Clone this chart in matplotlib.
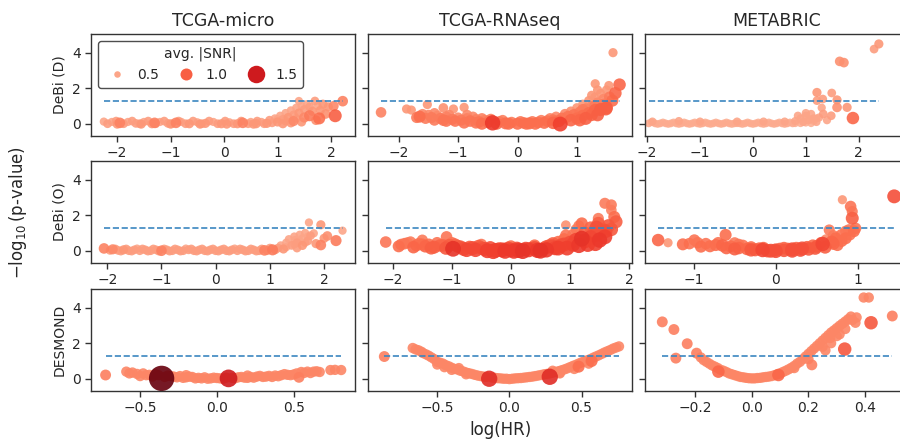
import numpy as np
import matplotlib
matplotlib.use("Agg")
import matplotlib.pyplot as plt
from matplotlib.lines import Line2D

datasets = ["TCGA-micro", "TCGA-RNAseq", "METABRIC"]
methods = ["DeBi (D)", "DeBi (O)", "DESMOND"]

# points per panel: (log HR, -log10 p, avg |SNR|)
micro_d = [
    (-2.25, 0.12, 0.5), (-2.1, 0.1, 0.5), (-1.95, 0.05, 0.75), (-1.8, 0.1, 0.5), (-1.65, 0.02, 0.55),
    (-1.5, 0.1, 0.5), (-1.35, 0.0, 0.6), (-1.3, 0.05, 0.75), (-1.2, 0.1, 0.5), (-1.05, 0.02, 0.55),
    (-0.9, 0.05, 0.75), (-0.8, 0.1, 0.5), (-0.65, 0.0, 0.6), (-0.5, 0.08, 0.5), (-0.35, 0.02, 0.6),
    (-0.2, 0.1, 0.5), (-0.05, 0.0, 0.6), (0.1, 0.08, 0.5), (0.25, 0.0, 0.6), (0.35, 0.05, 0.75),
    (0.5, 0.1, 0.5), (0.6, 0.0, 0.6), (0.7, 0.1, 0.5), (0.8, 0.02, 0.6), (-2.0, -0.02, 0.6),
    (-1.55, -0.02, 0.6), (-1.0, -0.02, 0.6), (-0.45, -0.02, 0.6), (0.05, -0.02, 0.6), (0.55, -0.02, 0.6),
    (0.85, 0.2, 0.55), (0.95, 0.3, 0.5), (1.0, 0.1, 0.6), (1.05, 0.45, 0.5), (1.1, 0.25, 0.55),
    (1.15, 0.6, 0.5), (1.2, 0.35, 0.6), (1.25, 0.75, 0.5), (1.3, 0.5, 0.55), (1.3, 0.15, 0.7),
    (1.35, 0.9, 0.5), (1.4, 1.28, 0.5), (1.4, 0.6, 0.6), (1.45, 1.0, 0.5), (1.5, 0.35, 0.7),
    (1.5, 0.8, 0.55), (1.55, 1.1, 0.5), (1.6, 0.45, 0.8), (1.6, 0.95, 0.55), (1.65, 0.7, 0.6),
    (1.7, 1.28, 0.55), (1.72, 0.2, 0.65), (1.75, 1.0, 0.5), (1.78, 0.3, 0.9), (1.8, 0.75, 0.6),
    (1.85, 1.1, 0.6), (1.9, 0.55, 0.65), (1.95, 0.95, 0.6), (2.05, 1.0, 0.7), (2.08, 0.45, 1.0),
    (2.22, 1.27, 0.75), (1.25, 0.05, 0.6), (1.45, 0.1, 0.6), (1.1, 0.0, 0.6),
    (-2.18, 0.0, 0.55), (-2.02, 0.15, 0.55), (-1.88, 0.0, 0.55), (-1.72, 0.15, 0.55), (-1.58, 0.0, 0.55),
    (-1.42, 0.15, 0.55), (-1.28, 0.0, 0.55), (-1.12, 0.15, 0.55), (-0.98, 0.0, 0.55), (-0.85, 0.15, 0.55),
    (-0.72, 0.0, 0.55), (-0.58, 0.15, 0.55), (-0.42, 0.0, 0.55), (-0.28, 0.15, 0.55), (-0.12, 0.0, 0.55),
    (0.02, 0.15, 0.55), (0.18, 0.0, 0.55), (0.32, 0.15, 0.55), (0.45, 0.0, 0.55), (0.62, 0.15, 0.55),
    (0.75, 0.0, 0.55), (0.9, 0.05, 0.55), (1.0, 0.25, 0.5), (1.15, 0.15, 0.55), (1.35, 0.3, 0.55),
]
rnaseq_d = [
    (-2.3, 0.64, 0.75), (-1.87, 0.83, 0.6), (-1.79, 0.77, 0.6), (-1.52, 1.08, 0.6), (-1.25, 0.89, 0.65),
    (-1.08, 0.83, 0.6), (-0.9, 0.92, 0.6), (-1.65, 0.4, 0.9), (-1.6, 0.55, 0.7), (-1.5, 0.5, 0.7),
    (-1.45, 0.35, 0.8), (-1.35, 0.45, 0.7), (-1.3, 0.3, 0.8), (-1.2, 0.4, 0.75), (-1.1, 0.25, 0.8),
    (-1.0, 0.35, 0.7), (-0.95, 0.2, 0.8), (-0.85, 0.3, 0.75), (-0.8, 0.15, 0.85), (-0.7, 0.25, 0.75),
    (-0.65, 0.1, 0.85), (-0.55, 0.2, 0.75), (-0.5, 0.08, 0.85), (-0.42, 0.05, 1.25), (-0.3, 0.12, 0.8),
    (-0.2, 0.02, 0.9), (-0.1, 0.08, 0.8), (0.0, 0.0, 0.9), (0.1, 0.05, 0.85), (0.2, 0.02, 0.9),
    (0.25, 0.12, 0.8), (0.35, 0.08, 0.85), (0.4, 0.2, 0.75), (0.5, 0.15, 0.85), (0.55, 0.3, 0.75),
    (0.6, 0.2, 0.85), (0.65, 0.4, 0.7), (0.72, -0.02, 1.2), (0.75, 0.3, 0.85), (0.8, 0.55, 0.7),
    (0.85, 0.4, 0.85), (0.9, 0.7, 0.65), (0.95, 0.5, 0.85), (1.0, 0.9, 0.6), (1.0, 0.3, 0.9),
    (1.05, 0.65, 0.8), (1.1, 1.1, 0.6), (1.1, 0.45, 0.9), (1.15, 0.85, 0.75), (1.2, 1.3, 0.6),
    (1.2, 0.6, 0.9), (1.25, 1.0, 0.7), (1.3, 1.5, 0.55), (1.31, 2.25, 0.6), (1.31, 0.77, 0.95),
    (1.35, 1.2, 0.7), (1.4, 1.7, 0.6), (1.4, 0.8, 1.0), (1.45, 1.4, 0.7), (1.49, 0.83, 1.0),
    (1.5, 1.9, 0.6), (1.54, 2.15, 0.6), (1.55, 1.5, 0.8), (1.61, 4.0, 0.6), (1.65, 1.72, 0.95),
    (1.72, 2.2, 0.95), (-1.4, 0.2, 0.8), (-0.9, 0.05, 0.85), (-0.6, 0.0, 0.9),
    (-1.55, 0.3, 0.8), (-1.25, 0.2, 0.85), (-1.15, 0.5, 0.7), (-1.05, 0.15, 0.85), (-0.75, 0.4, 0.7),
    (-0.6, 0.3, 0.75), (-0.45, 0.25, 0.8), (-0.35, 0.0, 0.9), (-0.25, 0.2, 0.75), (-0.15, 0.0, 0.9),
    (0.05, 0.12, 0.8), (0.15, 0.0, 0.9), (0.3, 0.0, 0.9), (0.45, 0.05, 0.9), (0.6, 0.05, 0.95),
    (0.7, 0.15, 0.9), (0.9, 0.2, 0.95), (1.05, 0.2, 0.95), (1.15, 0.3, 1.0), (1.25, 0.5, 0.95),
    (1.3, 1.0, 0.8), (1.35, 0.5, 1.0), (1.45, 1.1, 0.8), (1.5, 0.9, 1.0), (1.6, 1.3, 0.9),
    (1.35, 1.9, 0.6), (1.25, 1.6, 0.6), (1.1, 0.8, 0.8),
    (-1.7, 0.35, 0.8), (-1.4, 0.6, 0.7), (-1.2, 0.15, 0.85), (-0.85, 0.5, 0.7), (-0.7, 0.05, 0.85),
]
metabric_d = [
    (-1.97, 0.02, 0.45), (-1.85, 0.02, 0.45), (-1.75, 0.02, 0.45), (-1.65, 0.02, 0.45), (-1.55, 0.02, 0.45),
    (-1.45, 0.02, 0.45), (-1.35, 0.02, 0.45), (-1.25, 0.02, 0.45), (-1.15, 0.02, 0.45), (-1.05, 0.02, 0.45),
    (-0.95, 0.02, 0.45), (-0.85, 0.02, 0.45), (-0.75, 0.02, 0.45), (-0.65, 0.02, 0.45), (-0.55, 0.02, 0.45),
    (-0.45, 0.02, 0.45), (-0.35, 0.02, 0.45), (-0.25, 0.02, 0.45), (-0.15, 0.02, 0.45), (-0.05, 0.02, 0.45),
    (0.05, 0.02, 0.45), (0.15, 0.02, 0.45), (0.25, 0.02, 0.45), (0.35, 0.02, 0.45), (0.45, 0.02, 0.45),
    (0.55, 0.02, 0.45), (0.65, 0.02, 0.45), (0.75, 0.02, 0.45), (-1.9, 0.12, 0.5), (-1.4, 0.15, 0.5),
    (-1.0, 0.12, 0.5), (-0.3, 0.12, 0.5), (0.2, 0.12, 0.5), (0.6, 0.12, 0.5),
    (0.8, 0.15, 0.5), (0.9, 0.3, 0.5), (0.95, 0.1, 0.5), (1.0, 0.45, 0.5), (1.05, 0.2, 0.5),
    (1.1, 0.55, 0.5), (1.15, 0.3, 0.5), (1.2, 0.1, 0.5), (0.85, 0.45, 0.5), (1.0, 0.6, 0.5),
    (1.21, 1.3, 0.55), (1.21, 1.76, 0.6), (1.32, 1.39, 0.55), (1.33, 0.55, 0.55), (1.48, 0.45, 0.55),
    (1.49, 1.73, 0.55), (1.59, 1.34, 0.6), (1.59, 0.92, 0.65), (1.78, 0.92, 0.6), (1.89, 0.32, 0.95),
    (1.64, 3.51, 0.65), (1.72, 3.44, 0.65), (2.29, 4.2, 0.55), (2.38, 4.49, 0.6), (1.25, 0.35, 0.5),
    (1.4, 0.2, 0.5), (1.3, 0.9, 0.5),
    (-1.92, 0.08, 0.42), (-1.8, -0.02, 0.42), (-1.7, 0.08, 0.42), (-1.6, -0.02, 0.42), (-1.5, 0.08, 0.42),
    (-1.4, -0.02, 0.42), (-1.3, 0.08, 0.42), (-1.2, -0.02, 0.42), (-1.1, 0.08, 0.42), (-1.0, -0.02, 0.42),
    (-0.9, 0.08, 0.42), (-0.8, -0.02, 0.42), (-0.7, 0.08, 0.42), (-0.6, -0.02, 0.42), (-0.5, 0.08, 0.42),
    (-0.4, -0.02, 0.42), (-0.3, 0.02, 0.42), (-0.2, -0.02, 0.42), (-0.1, 0.08, 0.42), (0.0, -0.02, 0.42),
    (0.1, 0.08, 0.42), (0.2, -0.02, 0.42), (0.3, 0.08, 0.42), (0.4, -0.02, 0.42), (0.5, 0.08, 0.42),
    (0.6, -0.02, 0.42), (0.7, 0.08, 0.42), (0.8, 0.02, 0.42), (0.9, 0.02, 0.42), (1.0, 0.05, 0.42),
    (1.1, 0.02, 0.42), (1.15, 0.15, 0.45), (1.2, 0.3, 0.45), (1.1, 0.25, 0.45),
]
micro_o = [
    (-2.06, 0.13, 0.75), (-1.9, 0.08, 0.7), (-1.8, 0.02, 0.55), (-1.7, 0.05, 0.6), (-1.6, 0.0, 0.55),
    (-1.5, 0.05, 0.55), (-1.4, 0.0, 0.55), (-1.3, 0.05, 0.55), (-1.2, 0.0, 0.55), (-1.1, 0.05, 0.55),
    (-1.0, 0.0, 0.75), (-0.9, 0.05, 0.55), (-0.8, 0.0, 0.55), (-0.7, 0.05, 0.55), (-0.6, 0.0, 0.55),
    (-0.5, 0.05, 0.55), (-0.4, 0.0, 0.55), (-0.3, 0.05, 0.55), (-0.2, 0.0, 0.55), (-0.1, 0.05, 0.55),
    (0.0, 0.0, 0.55), (0.1, 0.05, 0.55), (0.2, 0.0, 0.55), (0.3, 0.05, 0.55), (0.4, 0.0, 0.55),
    (0.5, 0.05, 0.55), (0.6, 0.0, 0.55), (0.7, 0.05, 0.55), (0.8, 0.0, 0.55), (0.9, 0.02, 0.75),
    (1.05, 0.05, 0.8), (-1.45, 0.12, 0.5), (-0.55, 0.12, 0.5), (0.35, 0.12, 0.5),
    (1.15, 0.15, 0.55), (1.2, 0.3, 0.5), (1.25, 0.1, 0.6), (1.3, 0.45, 0.5), (1.35, 0.65, 0.5),
    (1.4, 0.3, 0.55), (1.45, 0.8, 0.5), (1.46, 0.6, 0.5), (1.5, 0.45, 0.55), (1.55, 0.9, 0.5),
    (1.6, 0.7, 0.5), (1.6, 0.3, 0.6), (1.65, 1.0, 0.5), (1.7, 0.55, 0.55), (1.72, 1.59, 0.5),
    (1.75, 0.85, 0.55), (1.81, 0.98, 0.5), (1.85, 0.4, 0.6), (1.94, 1.46, 0.6), (1.94, 0.32, 0.75),
    (2.0, 0.7, 0.6), (2.06, 0.83, 0.65), (2.22, 0.57, 0.8), (2.34, 1.13, 0.5),
    (-1.95, 0.02, 0.55), (-1.85, 0.1, 0.55), (-1.75, -0.02, 0.55), (-1.65, 0.1, 0.55), (-1.55, -0.02, 0.55),
    (-1.35, 0.1, 0.55), (-1.25, -0.02, 0.55), (-1.15, 0.1, 0.55), (-1.05, -0.02, 0.55), (-0.95, 0.1, 0.55),
    (-0.85, -0.02, 0.55), (-0.75, 0.1, 0.55), (-0.65, -0.02, 0.55), (-0.45, 0.1, 0.55), (-0.35, -0.02, 0.55),
    (-0.25, 0.1, 0.55), (-0.15, -0.02, 0.55), (-0.05, 0.1, 0.55), (0.05, -0.02, 0.55), (0.15, 0.1, 0.55),
    (0.25, -0.02, 0.55), (0.45, 0.1, 0.55), (0.55, -0.02, 0.55), (0.65, 0.1, 0.55), (0.75, -0.02, 0.55),
    (0.85, 0.1, 0.55), (0.95, 0.0, 0.55), (1.0, 0.15, 0.55), (1.1, 0.05, 0.55),
    (1.3, 0.2, 0.5), (1.45, 0.35, 0.5), (1.55, 0.55, 0.5), (1.65, 0.45, 0.5), (1.7, 0.8, 0.5), (1.5, 0.15, 0.55),
]
rnaseq_o = [
    (-2.12, 0.49, 0.85), (-1.86, 0.35, 0.85), (-1.75, 0.45, 0.8), (-1.7, 0.5, 0.8), (-1.6, 0.3, 0.9),
    (-1.56, 0.4, 0.85), (-1.45, 0.25, 0.95), (-1.39, 0.35, 0.9), (-1.3, 0.2, 1.0), (-1.2, 0.3, 0.95),
    (-1.09, 0.78, 0.85), (-1.1, 0.15, 1.05), (-0.98, 0.11, 1.3), (-0.9, 0.25, 1.0), (-0.8, 0.1, 1.1),
    (-0.7, 0.2, 1.0), (-0.6, 0.05, 1.15), (-0.5, 0.15, 1.05), (-0.4, 0.0, 1.2), (-0.26, 0.02, 1.2),
    (-0.2, 0.1, 1.05), (-0.1, -0.02, 1.25), (0.0, 0.05, 1.15), (0.13, 0.02, 1.25), (0.2, -0.02, 1.3),
    (0.3, 0.05, 1.2), (0.35, 0.12, 1.05), (0.45, 0.02, 1.25), (0.54, 0.11, 1.0), (0.6, 0.2, 1.1),
    (0.65, 0.3, 0.95), (0.71, 0.4, 1.0), (0.75, 0.15, 1.15), (0.8, 0.5, 0.9), (0.85, 0.3, 1.1),
    (0.9, 0.65, 0.9), (0.93, 0.87, 0.85), (0.93, 1.44, 0.65), (1.0, 0.45, 1.1), (1.05, 0.9, 0.85),
    (1.1, 1.2, 0.75), (1.1, 0.6, 1.15), (1.15, 1.4, 0.8), (1.2, 1.54, 0.9), (1.2, 0.68, 1.3),
    (1.25, 1.0, 1.0), (1.3, 0.35, 1.2), (1.35, 1.3, 0.95), (1.43, 0.4, 1.2), (1.45, 0.9, 1.1),
    (1.48, 1.82, 0.8), (1.48, 1.54, 1.0), (1.55, 1.2, 1.05), (1.59, 2.67, 0.8), (1.59, 0.78, 1.2),
    (1.65, 1.4, 1.05), (1.7, 2.58, 0.8), (1.7, 2.29, 0.75), (1.78, 1.63, 1.0), (-1.5, 0.6, 0.8),
    (-1.0, 0.45, 0.85), (-0.5, 0.35, 0.85), (0.0, 0.25, 0.9), (0.4, 0.3, 0.9),
    (-1.9, 0.25, 0.9), (-1.8, 0.4, 0.85), (-1.65, 0.2, 0.95), (-1.5, 0.35, 0.9), (-1.35, 0.15, 1.0),
    (-1.25, 0.45, 0.85), (-1.15, 0.3, 0.95), (-1.05, 0.3, 1.0), (-0.95, 0.35, 0.95), (-0.85, 0.2, 1.05),
    (-0.75, 0.05, 1.15), (-0.65, 0.15, 1.1), (-0.55, 0.25, 1.0), (-0.45, 0.1, 1.1), (-0.35, 0.15, 1.1),
    (-0.3, -0.05, 1.2), (-0.15, 0.05, 1.2), (-0.05, 0.12, 1.1), (0.05, -0.02, 1.25), (0.1, 0.12, 1.1),
    (0.25, 0.1, 1.15), (0.4, 0.15, 1.1), (0.5, 0.0, 1.3), (0.6, 0.05, 1.25), (0.7, 0.25, 1.1),
    (0.8, 0.15, 1.2), (0.9, 0.35, 1.1), (0.95, 0.15, 1.2), (1.05, 0.35, 1.15), (1.15, 0.3, 1.25),
    (1.25, 0.55, 1.2), (1.35, 0.75, 1.15), (1.4, 1.0, 1.05), (1.5, 0.6, 1.25), (1.6, 1.1, 1.1),
    (1.7, 1.2, 1.05), (1.75, 1.9, 0.9), (1.45, 1.3, 1.1),
]
metabric_o = [
    (-1.43, 0.6, 0.95), (-1.31, 0.45, 0.6), (-1.13, 0.36, 0.9), (-0.99, 0.6, 0.85), (-0.91, 0.23, 0.9),
    (-0.61, 0.89, 0.9), (-0.73, 0.32, 0.9), (-1.05, 0.4, 0.85), (-0.85, 0.4, 0.85), (-0.65, 0.3, 0.95),
    (-0.55, 0.25, 0.9), (-0.5, 0.45, 0.8), (-0.45, 0.15, 0.95), (-0.4, 0.3, 0.85), (-0.35, 0.1, 0.95),
    (-0.3, 0.2, 0.9), (-0.25, 0.05, 1.0), (-0.2, 0.12, 0.95), (-0.16, 0.04, 1.15), (-0.1, 0.0, 1.05),
    (-0.06, 0.0, 1.1), (0.0, 0.05, 1.0), (0.05, 0.1, 0.95), (0.1, 0.02, 1.05), (0.15, 0.1, 0.95),
    (0.2, 0.08, 1.1), (0.25, 0.15, 0.95), (0.32, 0.13, 1.1), (0.38, 0.2, 0.95), (0.45, 0.3, 0.9),
    (0.5, 0.25, 1.0), (0.55, 0.45, 0.85), (0.57, 0.38, 1.15), (0.61, 0.64, 0.7), (0.65, 1.17, 0.8),
    (0.68, 0.5, 0.95), (0.73, 0.7, 0.9), (0.75, 0.32, 0.9), (0.8, 0.9, 0.85), (0.85, 1.1, 0.8),
    (0.89, 1.17, 0.85), (0.81, 2.87, 0.6), (0.91, 2.49, 0.85), (0.93, 2.21, 0.8), (0.93, 1.83, 1.0),
    (0.97, 1.26, 0.85), (1.44, 3.06, 1.1),
    (-0.95, 0.45, 0.85), (-0.8, 0.25, 0.9), (-0.7, 0.45, 0.85), (-0.6, 0.15, 0.95), (-0.5, 0.1, 1.0),
    (-0.45, 0.35, 0.85), (-0.3, 0.05, 1.05), (-0.15, 0.15, 0.95), (0.0, -0.02, 1.1), (0.1, 0.15, 0.95),
    (0.2, 0.0, 1.1), (0.3, 0.05, 1.1), (0.4, 0.1, 1.05), (0.48, 0.15, 1.05), (0.6, 0.2, 1.0),
    (0.7, 0.4, 0.95), (0.8, 0.55, 0.9), (0.85, 0.7, 0.9), (0.9, 0.9, 0.85), (0.95, 1.1, 0.9),
    (0.7, 0.85, 0.8),
]
micro_des = [
    (-0.725, 0.21, 0.78), (-0.59, 0.4, 0.72), (-0.55, 0.35, 0.72), (-0.52, 0.27, 0.72), (-0.48, 0.3, 0.72),
    (-0.44, 0.22, 0.72), (-0.4, 0.25, 0.72), (-0.36, 0.02, 2.3), (-0.32, 0.18, 0.72), (-0.28, 0.12, 0.72),
    (-0.24, 0.15, 0.72), (-0.2, 0.08, 0.72), (-0.16, 0.1, 0.72), (-0.12, 0.05, 0.72), (-0.08, 0.08, 0.72),
    (-0.04, 0.02, 0.72), (0.0, 0.04, 0.72), (0.04, 0.0, 0.72), (0.076, 0.02, 1.5), (0.1, 0.05, 0.72),
    (0.14, 0.08, 0.72), (0.18, 0.06, 0.72), (0.22, 0.1, 0.72), (0.26, 0.12, 0.72), (0.3, 0.1, 0.72),
    (0.34, 0.16, 0.72), (0.38, 0.18, 0.72), (0.42, 0.2, 0.72), (0.46, 0.22, 0.72), (0.5, 0.24, 0.72),
    (0.535, 0.08, 0.78), (0.55, 0.38, 0.72), (0.59, 0.4, 0.72), (0.63, 0.4, 0.72), (0.67, 0.38, 0.72),
    (0.74, 0.49, 0.72), (0.81, 0.49, 0.72), (-0.2, 0.2, 0.72), (0.2, 0.18, 0.72),
    (-0.5, 0.15, 0.72), (-0.46, 0.2, 0.72), (-0.42, 0.12, 0.72), (-0.38, 0.2, 0.72), (-0.34, 0.1, 0.72),
    (-0.3, 0.15, 0.72), (-0.26, 0.08, 0.72), (-0.22, 0.05, 0.72), (-0.18, 0.12, 0.72), (-0.14, 0.02, 0.72),
    (-0.1, 0.02, 0.72), (-0.06, 0.0, 0.72), (-0.02, 0.06, 0.72), (0.02, 0.02, 0.72), (0.06, 0.06, 0.72),
    (0.12, 0.03, 0.72), (0.16, 0.1, 0.72), (0.2, 0.05, 0.72), (0.24, 0.06, 0.72), (0.28, 0.16, 0.72),
    (0.32, 0.12, 0.72), (0.36, 0.1, 0.72), (0.4, 0.14, 0.72), (0.44, 0.26, 0.72), (0.48, 0.2, 0.72),
    (0.52, 0.3, 0.72), (0.57, 0.33, 0.72), (0.61, 0.32, 0.72), (0.65, 0.42, 0.72), (0.77, 0.5, 0.72),
    (-0.57, 0.3, 0.72),
]
rnaseq_des = [
    (-0.867, 1.25, 0.78), (-0.67, 1.73, 0.72), (-0.63, 1.6, 0.72), (-0.6, 1.45, 0.72), (-0.56, 1.3, 0.72),
    (-0.52, 1.1, 0.72), (-0.5, 0.95, 0.72), (-0.46, 0.85, 0.72), (-0.42, 0.7, 0.72), (-0.38, 0.55, 0.72),
    (-0.34, 0.45, 0.72), (-0.3, 0.35, 0.72), (-0.26, 0.27, 0.72), (-0.22, 0.18, 0.72), (-0.18, 0.12, 0.72),
    (-0.14, 0.0, 1.35), (-0.12, 0.07, 0.72), (-0.08, 0.03, 0.72), (-0.04, 0.0, 0.72), (0.0, -0.02, 0.72),
    (0.04, 0.02, 0.72), (0.08, 0.04, 0.72), (0.12, 0.08, 0.72), (0.16, 0.12, 0.72), (0.2, 0.18, 0.72),
    (0.24, 0.25, 0.72), (0.28, 0.11, 1.35), (0.28, 0.3, 0.72), (0.32, 0.38, 0.72), (0.36, 0.47, 0.72),
    (0.4, 0.58, 0.72), (0.44, 0.72, 0.72), (0.48, 0.85, 0.72), (0.48, 0.68, 0.9), (0.52, 0.98, 0.72),
    (0.56, 1.1, 0.72), (0.57, 1.0, 0.9), (0.6, 1.25, 0.72), (0.64, 1.4, 0.72), (0.68, 1.55, 0.72),
    (0.72, 1.7, 0.72), (0.76, 1.82, 0.72), (-0.35, 0.6, 0.72), (-0.4, 0.5, 0.72), (0.3, 0.45, 0.72),
    (0.35, 0.35, 0.72),
    (-0.65, 1.65, 0.72), (-0.61, 1.52, 0.72), (-0.58, 1.38, 0.72), (-0.54, 1.2, 0.72), (-0.48, 0.9, 0.72),
    (-0.44, 0.76, 0.72), (-0.4, 0.62, 0.72), (-0.36, 0.52, 0.72), (-0.32, 0.41, 0.72), (-0.28, 0.31, 0.72),
    (-0.24, 0.22, 0.72), (-0.2, 0.15, 0.72), (-0.16, 0.1, 0.72), (-0.1, 0.05, 0.72), (-0.06, 0.02, 0.72),
    (-0.02, 0.0, 0.72), (0.02, 0.0, 0.72), (0.06, 0.03, 0.72), (0.1, 0.06, 0.72), (0.14, 0.1, 0.72),
    (0.18, 0.15, 0.72), (0.22, 0.21, 0.72), (0.26, 0.27, 0.72), (0.3, 0.34, 0.72), (0.34, 0.42, 0.72),
    (0.38, 0.52, 0.72), (0.42, 0.65, 0.72), (0.46, 0.78, 0.72), (0.5, 0.92, 0.72), (0.54, 1.04, 0.72),
    (0.58, 1.18, 0.72), (0.62, 1.32, 0.72), (0.66, 1.48, 0.72), (0.7, 1.62, 0.72), (0.74, 1.76, 0.72),
    (-0.45, 0.65, 0.72), (-0.3, 0.25, 0.72), (0.35, 0.3, 0.72), (0.45, 0.55, 0.72), (0.55, 0.85, 0.72),
    (-0.5, 0.8, 0.72),
]
metabric_des = [
    (-0.316, 3.2, 0.78), (-0.275, 2.77, 0.78), (-0.268, 1.16, 0.78), (-0.228, 1.97, 0.78), (-0.195, 1.44, 0.78),
    (-0.18, 1.2, 0.72), (-0.16, 0.95, 0.72), (-0.14, 0.75, 0.72), (-0.118, 0.4, 0.95), (-0.12, 0.6, 0.72),
    (-0.1, 0.45, 0.72), (-0.08, 0.3, 0.72), (-0.06, 0.2, 0.72), (-0.04, 0.1, 0.72), (-0.02, 0.05, 0.72),
    (0.0, 0.02, 0.72), (0.02, 0.04, 0.72), (0.04, 0.08, 0.72), (0.06, 0.12, 0.72), (0.08, 0.2, 0.72),
    (0.094, 0.21, 0.95), (0.1, 0.3, 0.72), (0.12, 0.45, 0.72), (0.14, 0.62, 0.72), (0.16, 0.85, 0.72),
    (0.18, 1.1, 0.72), (0.2, 1.4, 0.72), (0.212, 0.78, 0.78), (0.22, 1.7, 0.72), (0.24, 2.0, 0.72),
    (0.26, 2.3, 0.72), (0.277, 2.29, 0.72), (0.28, 2.6, 0.72), (0.3, 2.85, 0.72), (0.32, 3.1, 0.72),
    (0.34, 3.35, 0.72), (0.35, 3.5, 0.72), (0.328, 1.67, 1.05), (0.366, 3.15, 0.72), (0.395, 4.57, 0.72),
    (0.413, 4.57, 0.72), (0.421, 3.15, 1.05), (0.496, 3.53, 0.78), (0.25, 1.8, 0.72), (0.3, 2.4, 0.72),
    (0.2, 1.1, 0.72), (0.15, 0.6, 0.72),
    (-0.17, 1.05, 0.72), (-0.15, 0.85, 0.72), (-0.13, 0.68, 0.72), (-0.11, 0.5, 0.72), (-0.09, 0.38, 0.72),
    (-0.07, 0.25, 0.72), (-0.05, 0.15, 0.72), (-0.03, 0.08, 0.72), (-0.01, 0.03, 0.72), (0.01, 0.02, 0.72),
    (0.03, 0.05, 0.72), (0.05, 0.1, 0.72), (0.07, 0.15, 0.72), (0.09, 0.25, 0.72), (0.11, 0.38, 0.72),
    (0.13, 0.53, 0.72), (0.15, 0.72, 0.72), (0.17, 0.95, 0.72), (0.19, 1.25, 0.72), (0.21, 1.55, 0.72),
    (0.23, 1.85, 0.72), (0.25, 2.15, 0.72), (0.27, 2.45, 0.72), (0.29, 2.72, 0.72), (0.31, 2.98, 0.72),
    (0.33, 3.22, 0.72), (0.26, 1.6, 0.72), (0.28, 2.0, 0.72), (0.31, 2.5, 0.72), (0.33, 2.8, 0.72),
    (0.355, 3.3, 0.72), (0.37, 3.45, 0.72),
]

panels = [
    [micro_d, rnaseq_d, metabric_d],
    [micro_o, rnaseq_o, metabric_o],
    [micro_des, rnaseq_des, metabric_des],
]
xlims = [
    [(-2.49, 2.45), (-2.52, 1.93), (-2.04, 2.95)],
    [(-2.30, 2.57), (-2.42, 2.05), (-1.59, 1.62)],
    [(-0.82, 0.90), (-0.98, 0.85), (-0.377, 0.555)],
]
xticks = [
    [[-2, -1, 0, 1, 2], [-2, -1, 0, 1], [-2, -1, 0, 1, 2]],
    [[-2, -1, 0, 1, 2], [-2, -1, 0, 1, 2], [-1, 0, 1]],
    [[-0.5, 0.0, 0.5], [-0.5, 0.0, 0.5], [-0.2, 0.0, 0.2, 0.4]],
]
legend_snr = [0.5, 1.0, 1.5]
p_threshold = 1.3  # -log10(0.05)

txt = "#262626"
plt.rcParams["text.color"] = txt
plt.rcParams["axes.labelcolor"] = txt
plt.rcParams["xtick.color"] = txt
plt.rcParams["ytick.color"] = txt
plt.rcParams["font.family"] = "DejaVu Sans"

cmap = plt.get_cmap("Reds")
vmin, vmax = -0.26, 2.12


def diam(snr):
    # marker diameter in points
    return 0.72 * (3.5 + 9.5 * np.asarray(snr))


fig = plt.figure(figsize=(9, 4.42), dpi=100)
W, H = 900.0, 442.0
lefts = [91, 368, 645]
tops = [34, 161, 289]
axes = []
for r in range(3):
    row = []
    for c in range(3):
        ax = fig.add_axes([lefts[c] / W, 1 - (tops[r] + 102) / H, 264 / W, 102 / H])
        pts = sorted(panels[r][c], key=lambda p: p[2])
        x = np.array([p[0] for p in pts])
        y = np.array([p[1] for p in pts])
        s = np.array([p[2] for p in pts])
        ax.scatter(x, y, s=diam(s) ** 2, c=s, cmap=cmap, vmin=vmin, vmax=vmax,
                   linewidths=0, alpha=0.9, zorder=2)
        ax.hlines(p_threshold, x.min(), x.max(), colors="#3b86c0", linestyles="--",
                  linewidth=1.2, zorder=3)
        ax.set_xlim(*xlims[r][c])
        ax.set_xticks(xticks[r][c])
        ax.set_ylim(-0.69, 5.05)
        ax.set_yticks([0, 2, 4])
        if c > 0:
            ax.set_yticklabels([])
        else:
            ax.set_ylabel(methods[r], fontsize=10)
        if r == 0:
            ax.set_title(datasets[c], fontsize=12.5)
        for sp in ax.spines.values():
            sp.set_color("#333333")
            sp.set_linewidth(1.0)
        ax.tick_params(labelsize=10, length=4, width=1, color="#333333")
        row.append(ax)
    axes.append(row)

axes[2][1].set_xlabel("log(HR)", fontsize=12)
fig.text(18 / W, 1 - 213 / H, r"$-\log_{10}$(p-value)", rotation=90,
         ha="center", va="center", fontsize=12)

handles = [Line2D([], [], marker="o", ls="", markersize=0.72 * (1 + 11 * v),
                  markerfacecolor=cmap((v - vmin) / (vmax - vmin)), markeredgewidth=0)
           for v in legend_snr]
leg = axes[0][0].legend(handles, [str(v) for v in legend_snr], title="avg. |SNR|",
                        ncol=3, loc="upper left", fontsize=10, title_fontsize=10,
                        handletextpad=0.4, columnspacing=1.0, frameon=True)
leg.get_frame().set_edgecolor("#222222")

fig.savefig("out.png", dpi=100)
